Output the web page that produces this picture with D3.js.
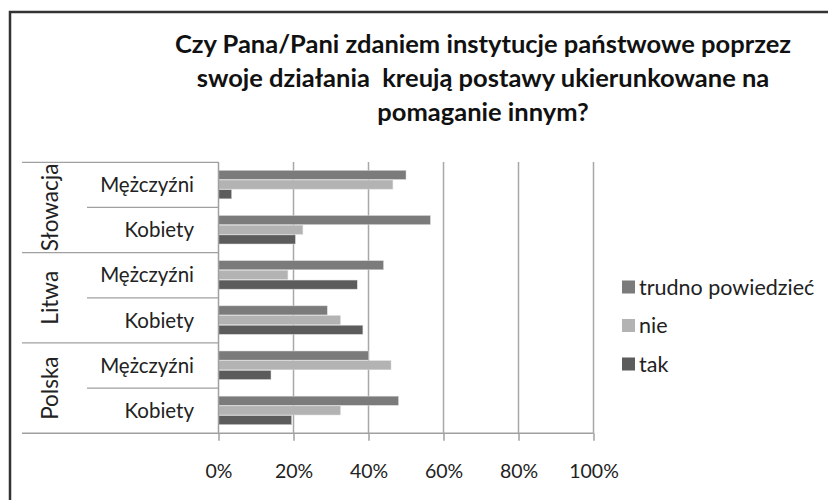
<!DOCTYPE html>
<html><head><meta charset="utf-8">
<script src="https://cdn.jsdelivr.net/npm/d3@7"></script>
<style>html,body{margin:0;padding:0;background:#fff;}svg{display:block;}</style>
</head><body>
<svg id="c" width="828" height="500"></svg>
<script>
const countries = ["Słowacja", "Litwa", "Polska"];
const groups = ["Mężczyźni", "Kobiety"];
const seriesNames = ["trudno powiedzieć", "nie", "tak"];
// rows top to bottom: Słowacja M, Słowacja K, Litwa M, Litwa K, Polska M, Polska K
const trudno = [50, 56.5, 44, 29, 40, 48];
const nie = [46.5, 22.5, 18.5, 32.5, 46, 32.5];
const tak = [3.5, 20.5, 37, 38.5, 14, 19.5];
const tickValues = [0, 20, 40, 60, 80, 100];
const titleLines = ["Czy Pana/Pani zdaniem instytucje państwowe poprzez",
  "swoje działania  kreują postawy ukierunkowane na", "pomaganie innym?"];
const colors = ["#7b7b7b", "#b3b3b3", "#5c5c5c"];

const svg = d3.select("#c");
const font = "Lato, 'Open Sans', sans-serif";

// frame
svg.append("path").attr("d", "M10,500 L10,12 L828,12").attr("fill", "none")
  .attr("stroke", "#333").attr("stroke-width", 2.5);

// title
svg.append("g").selectAll("text").data(titleLines).join("text")
  .attr("x", 483).attr("y", (d, i) => 53 + i * 34)
  .attr("text-anchor", "middle").attr("font-family", font)
  .attr("font-size", 25.5).attr("font-weight", 700).attr("fill", "#111")
  .style("white-space", "pre")
  .text(d => d);

const rows = [];
countries.forEach(c => groups.forEach(g => rows.push(c + "|" + g)));
const values = [trudno, nie, tak];

const x = d3.scaleLinear().domain([0, 100]).range([218.5, 593.5]);
const y = d3.scaleBand().domain(rows).range([162.3, 433.3]);
const yIn = d3.scaleBand().domain(seriesNames).range([0, y.bandwidth()]).paddingOuter(0.83);

// gridlines
svg.append("g").selectAll("line").data(tickValues.slice(1)).join("line")
  .attr("x1", d => x(d)).attr("x2", d => x(d)).attr("y1", 162).attr("y2", 433.3)
  .attr("stroke", "#a8a8a8").attr("stroke-width", 1.5);

// bars
const bars = svg.append("g");
seriesNames.forEach((s, si) => {
  bars.append("g").selectAll("rect").data(rows).join("rect")
    .attr("x", x(0))
    .attr("y", (r) => y(r) + yIn(s))
    .attr("width", (r, i) => x(values[si][i]) - x(0))
    .attr("height", yIn.bandwidth() - 0.6)
    .attr("fill", colors[si])
    .attr("stroke", "#d8d8d8").attr("stroke-width", 0.5);
});

// category axis line (0%)
svg.append("line").attr("x1", x(0)).attr("x2", x(0)).attr("y1", 162).attr("y2", 433.3)
  .attr("stroke", "#a0a0a0").attr("stroke-width", 1.5);

// x axis
const xAxis = d3.axisBottom(x).tickValues(tickValues).tickFormat(d => d + "%")
  .tickSize(7.5).tickPadding(23);
const gx = svg.append("g").attr("transform", "translate(0,433.3)").call(xAxis);
gx.select(".domain").remove();
gx.selectAll(".tick line").attr("stroke", "#a0a0a0").attr("stroke-width", 1.5);
gx.selectAll(".tick text").attr("font-family", font).attr("font-size", 19.5).attr("fill", "#222");
svg.append("line").attr("x1", 22).attr("x2", x(100)).attr("y1", 433.3).attr("y2", 433.3)
  .attr("stroke", "#a0a0a0").attr("stroke-width", 1.5);

// category separators
const bounds = d3.range(rows.length + 1);
const step = y.step();
svg.append("g").selectAll("line").data(bounds.slice(0, -1)).join("line")
  .attr("x1", d => d % 2 === 0 ? 22 : 87).attr("x2", x(0))
  .attr("y1", d => y.range()[0] + d * step).attr("y2", d => y.range()[0] + d * step)
  .attr("stroke", "#a0a0a0").attr("stroke-width", 1.2);

// group labels
svg.append("g").selectAll("text").data(rows).join("text")
  .attr("x", 194).attr("y", r => y(r) + y.bandwidth() / 2)
  .attr("dy", "0.35em").attr("text-anchor", "end")
  .attr("font-family", font).attr("font-size", 20.5).attr("fill", "#222")
  .text(r => r.split("|")[1]);

// country labels
svg.append("g").selectAll("text").data(countries).join("text")
  .attr("transform", c => {
    const cy = y(c + "|" + groups[0]) + y.bandwidth();
    return `translate(50,${cy}) rotate(-90)`;
  })
  .attr("dy", "0.35em").attr("text-anchor", "middle")
  .attr("font-family", font).attr("font-size", 22.5).attr("fill", "#222")
  .text(c => c);

// legend
const lg = svg.append("g").selectAll("g").data(seriesNames).join("g")
  .attr("transform", (d, i) => `translate(622,${287 + i * 38.5})`);
lg.append("rect").attr("x", 0).attr("y", -6.5).attr("width", 13).attr("height", 13)
  .attr("fill", (d, i) => colors[i]);
lg.append("text").attr("x", 17).attr("dy", "0.35em")
  .attr("font-family", font).attr("font-size", 21.5).attr("fill", "#222")
  .text(d => d);
</script>
</body></html>
